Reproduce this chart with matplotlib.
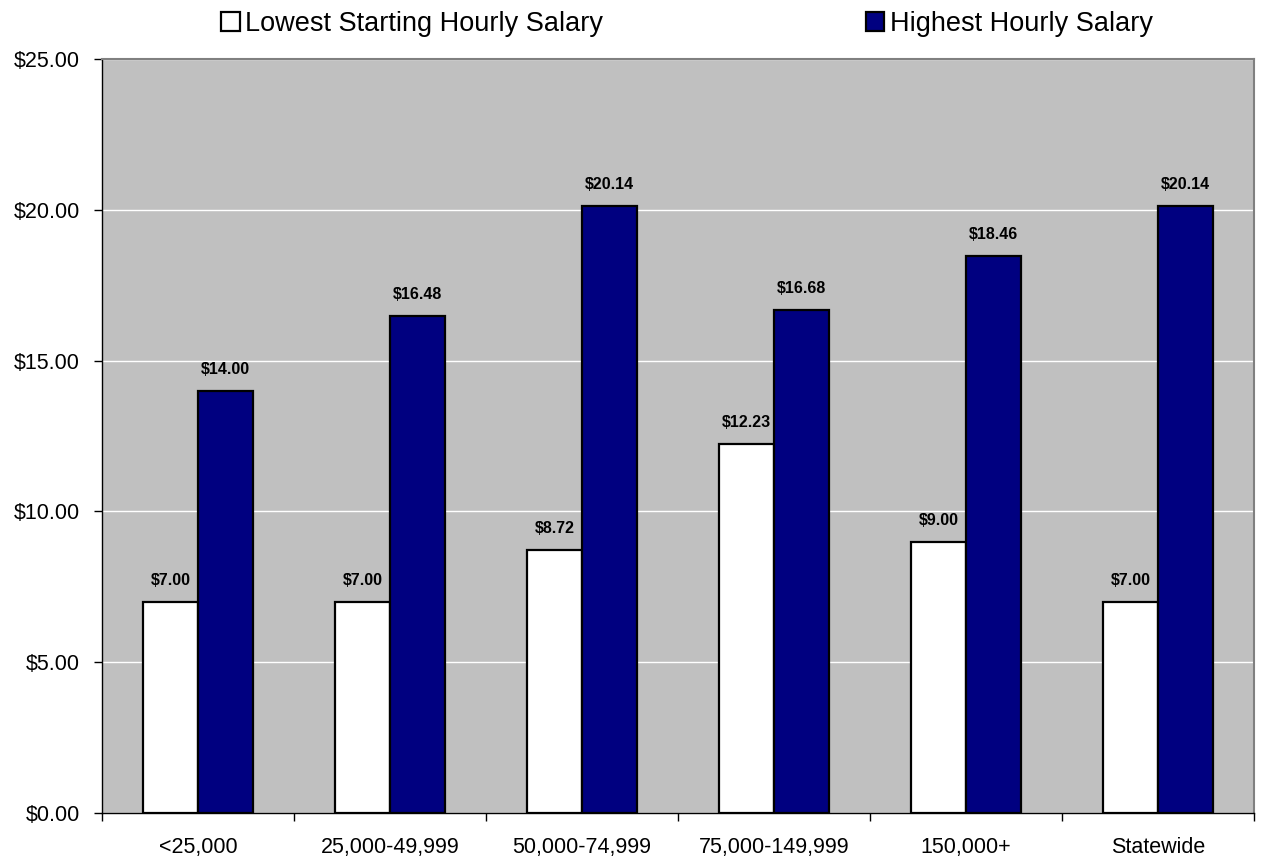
import numpy as np
import matplotlib.pyplot as plt
from matplotlib.patches import Patch
from matplotlib.ticker import FuncFormatter, FixedLocator

categories = ["<25,000", "25,000-49,999", "50,000-74,999", "75,000-149,999", "150,000+", "Statewide"]
lowest = [7.00, 7.00, 8.72, 12.23, 9.00, 7.00]
highest = [14.00, 16.48, 20.14, 16.68, 18.46, 20.14]
series_names = ["Lowest Starting Hourly Salary", "Highest Hourly Salary"]

plt.rcParams["font.family"] = ["Liberation Sans", "DejaVu Sans"]

fig = plt.figure(figsize=(12.64, 8.56), dpi=100)
ax = fig.add_axes([102 / 1264, 43 / 856, 1152 / 1264, 754 / 856])
ax.set_facecolor("#C0C0C0")

x = np.arange(len(categories))
w = 1 / 3.5
b1 = ax.bar(x - w / 2, lowest, w, color="white", edgecolor="black", linewidth=1.6, zorder=3)
b2 = ax.bar(x + w / 2, highest, w, color="#000080", edgecolor="black", linewidth=1.6, zorder=3)

for bars, vals in ((b1, lowest), (b2, highest)):
    for r, v in zip(bars, vals):
        ax.annotate(f"${v:.2f}", (r.get_x() + r.get_width() / 2, v), xytext=(0, 10),
                    textcoords="offset points", ha="center", va="bottom",
                    fontsize=11.5, fontweight="bold", color="black")

ax.set_xlim(-0.5, len(categories) - 0.5)
ax.set_ylim(0, 25)
ax.set_yticks(np.arange(0, 26, 5))
ax.yaxis.set_major_formatter(FuncFormatter(lambda v, p: f"${v:.2f}"))
ax.tick_params(axis="y", direction="out", length=6, width=1, pad=10, labelsize=15.5)
ax.grid(axis="y", color="white", linewidth=1, zorder=1)
ax.set_axisbelow(True)

ax.set_xticks(x)
ax.set_xticklabels(categories)
ax.xaxis.set_minor_locator(FixedLocator(np.arange(-0.5, len(categories), 1)))
ax.tick_params(axis="x", which="major", length=0, pad=17, labelsize=15.5)
ax.tick_params(axis="x", which="minor", direction="out", length=6, width=1)

for s in ("top", "right"):
    ax.spines[s].set_color("#808080")
    ax.spines[s].set_linewidth(1.5)
for s in ("left", "bottom"):
    ax.spines[s].set_color("black")
    ax.spines[s].set_linewidth(1)

handles = [Patch(facecolor="white", edgecolor="black", linewidth=1.6),
           Patch(facecolor="#000080", edgecolor="black", linewidth=1.6)]
fig.legend(handles, series_names, loc="center left", bbox_to_anchor=(197 / 1264, 1 - 24 / 856),
           ncol=2, frameon=False, fontsize=19.5, handlelength=0.67, handleheight=0.67,
           handletextpad=0.22, columnspacing=9.7)

fig.savefig("out.png", dpi=100)
